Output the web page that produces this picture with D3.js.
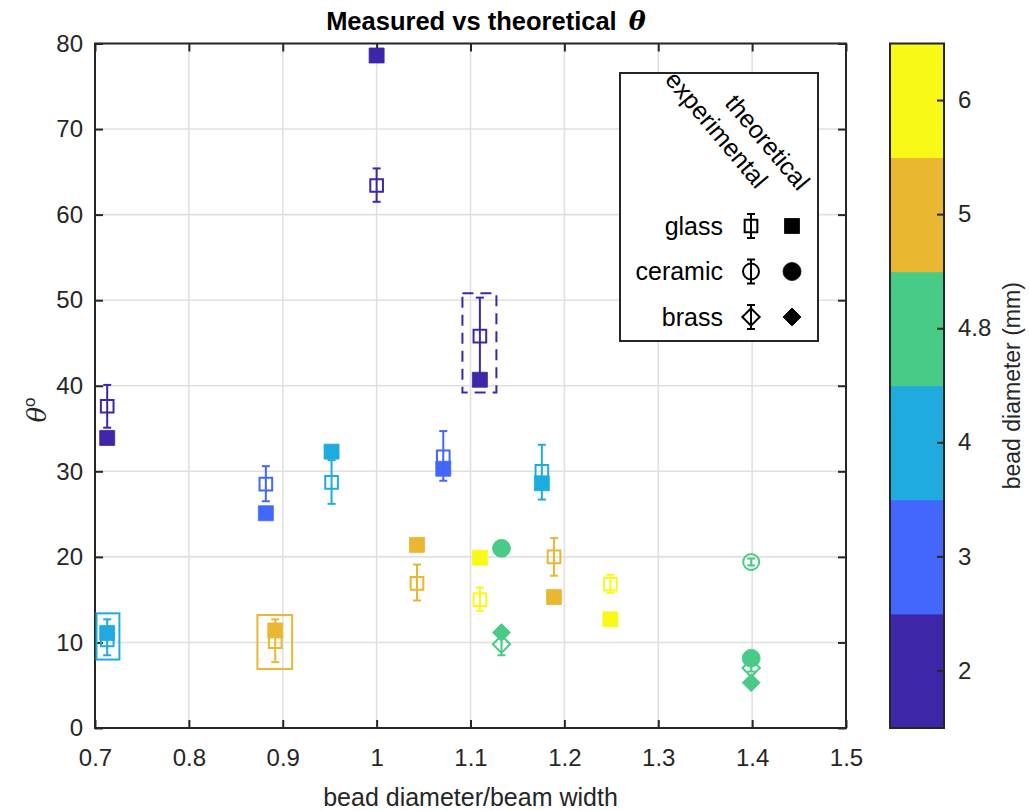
<!DOCTYPE html>
<html>
<head>
<meta charset="utf-8">
<script src="https://cdn.jsdelivr.net/npm/d3@7"></script>
<style>
  body { margin: 0; background: #fff; }
  svg { font-family: "Liberation Sans", Arial, sans-serif; }
</style>
</head>
<body>
<div id="chart"></div>
<script>
// ---- data ----
const ratio    = [0.713, 0.713, 0.882, 0.892, 0.952, 1.000, 1.043, 1.071, 1.110, 1.110, 1.133, 1.133, 1.176, 1.189, 1.249, 1.399, 1.399];
const diameter = ['2', '4', '3', '5', '4', '2', '5', '3', '2', '6', '4.8', '4.8', '4', '5', '6', '4.8', '4.8'];
const material = ['glass', 'glass', 'glass', 'glass', 'glass', 'glass', 'glass', 'glass', 'glass', 'glass', 'ceramic', 'brass', 'glass', 'glass', 'glass', 'ceramic', 'brass'];
const expTheta = [37.6, 10.3, 28.5, 10.1, 28.7, 63.4, 16.9, 31.7, 45.8, 15.0, null, 9.8, 30.0, 20.0, 16.8, 19.4, 7.0];
const expLow   = [35.1, 8.5, 26.5, 7.7, 26.2, 61.5, 14.9, 28.9, 41.0, 13.7, null, 8.5, 26.7, 17.8, 15.8, 19.0, 6.6];
const expHigh  = [40.1, 12.7, 30.6, 12.7, 31.3, 65.4, 19.1, 34.7, 50.3, 16.4, null, 11.0, 33.1, 22.2, 17.9, 19.8, 7.4];
const theoTheta = [33.9, 11.1, 25.1, 11.4, 32.3, 78.6, 21.4, 30.3, 40.7, 19.9, 21.0, 11.15, 28.6, 15.3, 12.7, 8.15, 5.3];

// highlight boxes around some points
const boxX0 = [0.7016, 0.873, 1.0914];
const boxX1 = [0.726, 0.910, 1.1276];
const boxY0 = [8.0, 6.9, 39.2];
const boxY1 = [13.4, 13.2, 50.8];
const boxDiam = ['4', '5', '2'];
const boxDashed = [false, false, true];

const diamLevels = ['2', '3', '4', '4.8', '5', '6'];
const diamColors = ['#3e26a8', '#4367fd', '#1fabe0', '#48cb86', '#e9b731', '#f9f918'];
const materials = ['glass', 'ceramic', 'brass'];

const xTicks = [0.7, 0.8, 0.9, 1, 1.1, 1.2, 1.3, 1.4, 1.5];
const yTicks = [0, 10, 20, 30, 40, 50, 60, 70, 80];

// ---- layout ----
const W = 1029, H = 811;
const plot = { left: 95, top: 43.5, right: 846, bottom: 728 };
const cbar = { left: 890, right: 944, top: 43.5, bottom: 728 };
const axisColor = '#262626';

const svg = d3.select('#chart').append('svg')
  .attr('width', W).attr('height', H);

const x = d3.scaleLinear().domain([0.7, 1.5]).range([plot.left, plot.right]);
const y = d3.scaleLinear().domain([0, 80]).range([plot.bottom, plot.top]);
const color = d3.scaleOrdinal().domain(diamLevels).range(diamColors);

// grid
const grid = svg.append('g');
grid.selectAll('.gx').data(xTicks).join('line')
  .attr('x1', d => x(d)).attr('x2', d => x(d))
  .attr('y1', plot.top).attr('y2', plot.bottom)
  .attr('stroke', '#e0e0e0').attr('stroke-width', 1.6);
grid.selectAll('.gy').data(yTicks).join('line')
  .attr('x1', plot.left).attr('x2', plot.right)
  .attr('y1', d => y(d)).attr('y2', d => y(d))
  .attr('stroke', '#e0e0e0').attr('stroke-width', 1.6);

// axes (MATLAB style: ticks inside, box on all sides)
function styleAxis(g) {
  g.select('.domain').remove();
  g.selectAll('.tick line').attr('stroke', axisColor).attr('stroke-width', 2);
  g.selectAll('.tick text').attr('fill', axisColor).attr('font-size', 24);
}
svg.append('g').attr('transform', `translate(0,${plot.bottom})`)
  .call(d3.axisBottom(x).tickValues(xTicks).tickSize(-8).tickPadding(21).tickFormat(d3.format('')))
  .call(styleAxis);
svg.append('g').attr('transform', `translate(0,${plot.top})`)
  .call(d3.axisTop(x).tickValues(xTicks).tickSize(-8).tickFormat(''))
  .call(styleAxis);
svg.append('g').attr('transform', `translate(${plot.left},0)`)
  .call(d3.axisLeft(y).tickValues(yTicks).tickSize(-8).tickPadding(12))
  .call(styleAxis);
svg.append('g').attr('transform', `translate(${plot.right},0)`)
  .call(d3.axisRight(y).tickValues(yTicks).tickSize(-8).tickFormat(''))
  .call(styleAxis);
svg.append('rect')
  .attr('x', plot.left).attr('y', plot.top)
  .attr('width', plot.right - plot.left).attr('height', plot.bottom - plot.top)
  .attr('fill', 'none').attr('stroke', axisColor).attr('stroke-width', 2);

// ---- marker helpers ----
const shapeOf = { glass: d3.symbolSquare, ceramic: d3.symbolCircle, brass: d3.symbolSquare };
const filledSize = { glass: 225, ceramic: 254, brass: 162 };
const openSize = { glass: 160, ceramic: 200, brass: 150 };

function marker(g, mat, filled, cx, cy, col) {
  const size = filled ? filledSize[mat] : openSize[mat];
  const rot = mat === 'brass' ? ' rotate(45)' : '';
  g.append('path')
    .attr('d', d3.symbol(shapeOf[mat], size)())
    .attr('transform', `translate(${cx},${cy})${rot}`)
    .attr('fill', filled ? col : 'none')
    .attr('stroke', col)
    .attr('stroke-width', filled ? 0.8 : 2);
}

function errorBar(g, cx, y0, y1, col) {
  const cap = 4;
  g.append('line').attr('x1', cx).attr('x2', cx).attr('y1', y0).attr('y2', y1)
    .attr('stroke', col).attr('stroke-width', 2);
  [y0, y1].forEach(v => g.append('line')
    .attr('x1', cx - cap).attr('x2', cx + cap).attr('y1', v).attr('y2', v)
    .attr('stroke', col).attr('stroke-width', 2));
}

// ---- data marks ----
const marks = svg.append('g');
ratio.forEach((r, i) => {
  const col = color(diameter[i]);
  const cx = x(r);
  if (expTheta[i] !== null) {
    errorBar(marks, cx, y(expLow[i]), y(expHigh[i]), col);
    marker(marks, material[i], false, cx, y(expTheta[i]), col);
  }
  marker(marks, material[i], true, cx, y(theoTheta[i]), col);
});

// highlight boxes
boxX0.forEach((bx, i) => {
  marks.append('rect')
    .attr('x', x(bx)).attr('y', y(boxY1[i]))
    .attr('width', x(boxX1[i]) - x(bx)).attr('height', y(boxY0[i]) - y(boxY1[i]))
    .attr('fill', 'none').attr('stroke', color(boxDiam[i])).attr('stroke-width', 2)
    .attr('stroke-dasharray', boxDashed[i] ? '11,7' : null);
});

// ---- labels ----
svg.append('text')
  .attr('x', 486).attr('y', 30)
  .attr('text-anchor', 'middle').attr('font-size', 25.5).attr('font-weight', 'bold')
  .attr('fill', '#000')
  .html('Measured vs theoretical <tspan font-style="italic" font-family="DejaVu Serif">&#x2009;θ</tspan>');

svg.append('text')
  .attr('x', (plot.left + plot.right) / 2).attr('y', 806)
  .attr('text-anchor', 'middle').attr('font-size', 25).attr('fill', axisColor)
  .text('bead diameter/beam width');

svg.append('text')
  .attr('transform', `translate(46,410) rotate(-90)`)
  .attr('text-anchor', 'middle').attr('font-size', 26).attr('fill', axisColor)
  .html('<tspan font-style="italic" font-family="DejaVu Serif">θ</tspan><tspan font-size="17" dy="-11">o</tspan>');

// ---- legend ----
const leg = svg.append('g');
const legBox = { x: 620, y: 73, w: 198, h: 268 };
leg.append('rect')
  .attr('x', legBox.x).attr('y', legBox.y).attr('width', legBox.w).attr('height', legBox.h)
  .attr('fill', '#fff').attr('stroke', axisColor).attr('stroke-width', 2);
leg.append('text')
  .attr('transform', 'translate(756,190) rotate(50)')
  .attr('text-anchor', 'end').attr('font-size', 25).attr('fill', '#000')
  .text('experimental');
leg.append('text')
  .attr('transform', 'translate(798,192) rotate(50)')
  .attr('text-anchor', 'end').attr('font-size', 25).attr('fill', '#000')
  .text('theoretical');
materials.forEach((m, i) => {
  const cy = 226 + i * 45.5;
  leg.append('text')
    .attr('x', 723).attr('y', cy).attr('dy', '0.35em')
    .attr('text-anchor', 'end').attr('font-size', 25).attr('fill', '#000')
    .text(m);
  errorBar(leg, 751, cy - 12, cy + 12, '#000');
  marker(leg, m, false, 751, cy, '#000');
  marker(leg, m, true, 792, cy, '#000');
});

// ---- colorbar ----
const cy = d3.scaleBand().domain(diamLevels).range([cbar.bottom, cbar.top]);
svg.append('g').selectAll('rect').data(diamLevels).join('rect')
  .attr('x', cbar.left).attr('width', cbar.right - cbar.left)
  .attr('y', d => cy(d)).attr('height', cy.bandwidth() + 0.5)
  .attr('fill', d => color(d));
svg.append('g').attr('transform', `translate(${cbar.right},0)`)
  .call(d3.axisRight(cy).tickSize(-7).tickPadding(14))
  .call(styleAxis);
svg.append('rect')
  .attr('x', cbar.left).attr('y', cbar.top)
  .attr('width', cbar.right - cbar.left).attr('height', cbar.bottom - cbar.top)
  .attr('fill', 'none').attr('stroke', axisColor).attr('stroke-width', 2);
svg.append('text')
  .attr('transform', `translate(1020,${(cbar.top + cbar.bottom) / 2}) rotate(-90)`)
  .attr('text-anchor', 'middle').attr('font-size', 23).attr('fill', axisColor)
  .text('bead diameter (mm)');
</script>
</body>
</html>
